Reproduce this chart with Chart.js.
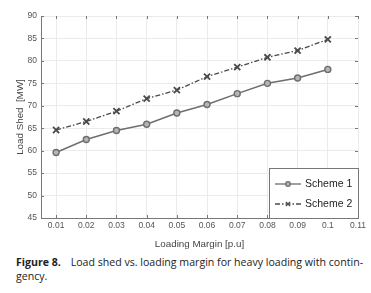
<!DOCTYPE html>
<html>
<head>
<meta charset="utf-8">
<script src="https://cdn.jsdelivr.net/npm/chart.js@4"></script>
<style>
  html, body { margin: 0; padding: 0; background: #fff; }
  #wrap { position: relative; width: 371px; height: 293px; }
  #box { position: absolute; left: 0; top: 0; width: 371px; height: 250px; }
  #caption {
    position: absolute; left: 16px; top: 255px; width: 355px;
    font-family: "Open Sans", sans-serif; font-size: 10.6px; line-height: 14px; color: #222;
  }
  #caption b { font-weight: 700; margin-right: 7px; }
</style>
</head>
<body>
<div id="wrap">
  <div id="box"><canvas id="chart"></canvas></div>
  <div id="caption"><b>Figure 8.</b> Load shed vs. loading margin for heavy loading with contin-<br>gency.</div>
</div>
<script>
const margins = [0.01, 0.02, 0.03, 0.04, 0.05, 0.06, 0.07, 0.08, 0.09, 0.1];
const scheme1 = [59.6, 62.5, 64.5, 65.9, 68.4, 70.3, 72.7, 75.0, 76.2, 78.1];
const scheme2 = [64.6, 66.5, 68.8, 71.6, 73.5, 76.5, 78.6, 80.8, 82.3, 84.8];
const xTicks = [0.01, 0.02, 0.03, 0.04, 0.05, 0.06, 0.07, 0.08, 0.09, 0.1, 0.11];
const yTicks = [45, 50, 55, 60, 65, 70, 75, 80, 85, 90];

const toPoints = (ys) => margins.map((x, i) => ({ x: x, y: ys[i] }));
const tickFont = { family: "'Liberation Sans', Arial, sans-serif", size: 8.5 };
const titleFont = { family: "'Liberation Sans', Arial, sans-serif", size: 9.8 };

// MATLAB style: inward ticks and a legend box inside the plot
const matlabBits = {
  id: "matlabBits",
  afterDraw(chart) {
    const { ctx, chartArea: a, scales } = chart;
    ctx.save();
    ctx.strokeStyle = "#777";
    ctx.lineWidth = 1;
    ctx.beginPath();
    xTicks.forEach((t) => {
      const px = Math.round(scales.x.getPixelForValue(t)) + 0.5;
      ctx.moveTo(px, a.bottom); ctx.lineTo(px, a.bottom - 3);
      ctx.moveTo(px, a.top); ctx.lineTo(px, a.top + 3);
    });
    yTicks.forEach((t) => {
      const py = Math.round(scales.y.getPixelForValue(t)) + 0.5;
      ctx.moveTo(a.left, py); ctx.lineTo(a.left + 3, py);
      ctx.moveTo(a.right, py); ctx.lineTo(a.right - 3, py);
    });
    ctx.stroke();

    // legend
    const w = 89, h = 50;
    const x0 = a.right - w, y0 = a.bottom - h;
    ctx.fillStyle = "#fff";
    ctx.fillRect(x0, y0, w, h);
    ctx.strokeStyle = "#777";
    ctx.strokeRect(x0 + 0.5, y0 + 0.5, w, h);
    ctx.font = "10.5px 'Liberation Sans', Arial, sans-serif";
    ctx.textBaseline = "middle";
    chart.data.datasets.forEach((ds, i) => {
      const cy = y0 + 16 + i * 20;
      ctx.strokeStyle = ds.borderColor;
      ctx.lineWidth = 1.3;
      ctx.setLineDash(ds.borderDash || []);
      ctx.beginPath();
      ctx.moveTo(x0 + 6, cy); ctx.lineTo(x0 + 32, cy);
      ctx.stroke();
      ctx.setLineDash([]);
      ctx.fillStyle = ds.pointBackgroundColor || ds.borderColor;
      Chart.helpers.drawPoint(ctx, {
        pointStyle: ds.pointStyle, radius: i === 0 ? 2.3 : 3, borderWidth: 1.4
      }, x0 + 19, cy);
      ctx.fillStyle = "#222";
      ctx.fillText(ds.label, x0 + 36, cy + 0.5);
    });
    ctx.restore();
  },
};

new Chart(document.getElementById("chart"), {
  type: "line",
  data: {
    datasets: [
      {
        label: "Scheme 1",
        data: toPoints(scheme1),
        borderColor: "#6e6e6e",
        backgroundColor: "#b5b5b5",
        pointBackgroundColor: "#b5b5b5",
        pointBorderColor: "#6e6e6e",
        pointStyle: "circle",
        pointRadius: 3,
        pointBorderWidth: 1.4,
        borderWidth: 1.5,
        tension: 0,
      },
      {
        label: "Scheme 2",
        data: toPoints(scheme2),
        borderColor: "#4a4a4a",
        backgroundColor: "#4a4a4a",
        pointBorderColor: "#4a4a4a",
        pointStyle: "crossRot",
        pointRadius: 4.3,
        pointBorderWidth: 1.8,
        borderWidth: 1.3,
        borderDash: [5, 2, 1.5, 2],
        tension: 0,
      },
    ],
  },
  options: {
    responsive: true,
    maintainAspectRatio: false,
    animation: false,
    layout: { padding: { top: 16, right: 13, left: 0, bottom: 0 } },
    plugins: { legend: { display: false }, tooltip: { enabled: false } },
    scales: {
      x: {
        type: "linear",
        min: 0.005,
        max: 0.11,
        afterBuildTicks: (s) => { s.ticks = xTicks.map((v) => ({ value: v })); },
        afterFit: (s) => { s.height = 32; },
        ticks: { color: "#555", font: tickFont, padding: 3, maxRotation: 0, autoSkip: false,
          callback: (v) => String(Math.round(v * 100) / 100) },
        grid: { color: "#ebebeb", drawTicks: false },
        border: { color: "#777" },
        title: { display: true, text: "Loading Margin [p.u]", color: "#444", font: titleFont, padding: { top: 2, bottom: 0 } },
      },
      y: {
        min: 45,
        max: 90,
        afterBuildTicks: (s) => { s.ticks = yTicks.map((v) => ({ value: v })); },
        afterFit: (s) => { s.width = 41; },
        ticks: { color: "#555", font: tickFont, padding: 4 },
        grid: { color: "#ebebeb", drawTicks: false },
        border: { color: "#777" },
        title: { display: true, text: "Load Shed  [MW]", color: "#444", font: titleFont, padding: { top: 14, bottom: 0 } },
      },
    },
  },
  plugins: [matlabBits],
});
</script>
</body>
</html>
